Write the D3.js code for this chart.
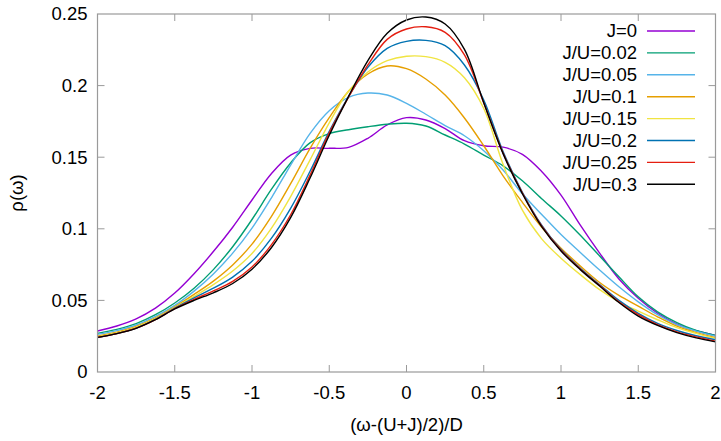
<!DOCTYPE html>
<html><head><meta charset="utf-8">
<script src="https://cdn.jsdelivr.net/npm/d3@7"></script>
<style>body{margin:0;background:#fff}svg{display:block}text{font-family:"Liberation Sans",Arial,sans-serif;fill:#000}</style>
</head><body>
<script>
const xs = [-2, -1.875, -1.75, -1.625, -1.5, -1.375, -1.25, -1.125, -1, -0.875, -0.75, -0.625, -0.5, -0.375, -0.25, -0.125, 0, 0.125, 0.25, 0.375, 0.5, 0.625, 0.75, 0.875, 1, 1.125, 1.25, 1.375, 1.5, 1.625, 1.75, 1.875, 2];
const J0   = [0.0286,0.0321,0.0371,0.0446,0.0551,0.0686,0.0841,0.1011,0.1201,0.1385,0.1515,0.1562,0.1562,0.1569,0.1632,0.1725,0.1776,0.176,0.170,0.1615,0.158,0.157,0.152,0.140,0.1235,0.1025,0.083,0.065,0.0515,0.041,0.0335,0.0288,0.0255];
const J002 = [0.027,0.0298,0.0338,0.040,0.0482,0.0585,0.0715,0.0875,0.1065,0.1275,0.146,0.160,0.1665,0.1692,0.1713,0.173,0.1737,0.1718,0.1655,0.1592,0.1515,0.144,0.1335,0.121,0.109,0.0955,0.081,0.0665,0.0525,0.042,0.0345,0.029,0.0255];
const J005 = [0.0263,0.0289,0.0328,0.0388,0.0465,0.0565,0.0685,0.083,0.1005,0.1215,0.1445,0.1665,0.1825,0.1918,0.1948,0.1934,0.1876,0.180,0.172,0.165,0.1545,0.141,0.1245,0.110,0.096,0.0835,0.0712,0.0595,0.049,0.040,0.033,0.0285,0.025];
const J01  = [0.025,0.0278,0.0318,0.0378,0.0455,0.0542,0.0635,0.0748,0.0893,0.1085,0.1315,0.156,0.1776,0.196,0.2081,0.2137,0.2118,0.2046,0.1934,0.1774,0.158,0.137,0.1185,0.101,0.0865,0.074,0.0625,0.0535,0.046,0.0385,0.032,0.0275,0.024];
const J015 = [0.0245,0.0273,0.0313,0.0373,0.045,0.0528,0.061,0.0705,0.0828,0.1003,0.1225,0.148,0.174,0.1962,0.2095,0.2174,0.2205,0.2202,0.2163,0.2055,0.184,0.145,0.113,0.093,0.0795,0.068,0.0575,0.049,0.0425,0.0365,0.031,0.027,0.0235];
const J02  = [0.024,0.0268,0.0307,0.0368,0.0446,0.0518,0.0585,0.0663,0.0773,0.0933,0.1143,0.140,0.168,0.1923,0.2128,0.226,0.2309,0.2316,0.2279,0.2144,0.19,0.154,0.1255,0.1025,0.0855,0.0725,0.061,0.050,0.041,0.034,0.029,0.0253,0.0225];
const J025 = [0.0242,0.0268,0.0306,0.0366,0.0443,0.0507,0.0566,0.0633,0.0733,0.0888,0.1098,0.1373,0.167,0.192,0.2144,0.2323,0.2395,0.2411,0.2372,0.2214,0.188,0.153,0.125,0.102,0.085,0.072,0.0605,0.049,0.040,0.033,0.028,0.0245,0.0215];
const J03  = [0.0242,0.0268,0.0305,0.0365,0.0440,0.0500,0.0553,0.0618,0.0718,0.0868,0.1078,0.1353,0.1653,0.1925,0.2174,0.2365,0.2458,0.2479,0.243,0.2253,0.188,0.1525,0.1245,0.1015,0.0845,0.0715,0.060,0.0485,0.039,0.0325,0.0275,0.0238,0.021];
const seriesNames = ["J=0","J/U=0.02","J/U=0.05","J/U=0.1","J/U=0.15","J/U=0.2","J/U=0.25","J/U=0.3"];
const seriesValues = [J0, J002, J005, J01, J015, J02, J025, J03];
const colors = ["#9400d3","#009e73","#56b4e9","#e69f00","#f0e442","#0072b2","#e51e10","#000000"];
const xTicks = [-2,-1.5,-1,-0.5,0,0.5,1,1.5,2];
const xTickLabels = ["-2","-1.5","-1","-0.5","0","0.5","1","1.5","2"];
const yTicks = [0,0.05,0.1,0.15,0.2,0.25];
const yTickLabels = ["0","0.05","0.1","0.15","0.2","0.25"];

const W = 721, H = 441;
const L = 97.5, R = 715.5, T = 14, B = 372;
const svg = d3.select("body").append("svg").attr("width", W).attr("height", H);
const x = d3.scaleLinear().domain([-2, 2]).range([L, R]);
const y = d3.scaleLinear().domain([0, 0.25]).range([B, T]);
const fs = "18.5px";
const gridCol = "#9a9a9a";

// curves
const line = d3.line().x((d, i) => x(xs[i])).y(d => y(d)).curve(d3.curveCatmullRom.alpha(0.5));
seriesValues.forEach((vals, k) => {
  svg.append("path").attr("d", line(vals)).attr("fill", "none")
    .attr("stroke", colors[k]).attr("stroke-width", 1.4);
});

// border
svg.append("rect").attr("x", L).attr("y", T).attr("width", R - L).attr("height", B - T)
  .attr("fill", "none").attr("stroke", gridCol).attr("stroke-width", 1.2);

// ticks (inward, mirrored)
const tl = 7;
xTicks.forEach((t, i) => {
  const px = x(t);
  if (i > 0 && i < xTicks.length - 1) {
    svg.append("line").attr("x1", px).attr("x2", px).attr("y1", B).attr("y2", B - tl).attr("stroke", gridCol);
    svg.append("line").attr("x1", px).attr("x2", px).attr("y1", T).attr("y2", T + tl).attr("stroke", gridCol);
  }
  svg.append("text").attr("x", px).attr("y", 399).attr("text-anchor", "middle")
    .style("font-size", fs).text(xTickLabels[i]);
});
yTicks.forEach((t, i) => {
  const py = y(t);
  if (i > 0 && i < yTicks.length - 1) {
    svg.append("line").attr("x1", L).attr("x2", L + tl).attr("y1", py).attr("y2", py).attr("stroke", gridCol);
    svg.append("line").attr("x1", R).attr("x2", R - tl).attr("y1", py).attr("y2", py).attr("stroke", gridCol);
  }
  svg.append("text").attr("x", 87.5).attr("y", py).attr("dy", "0.35em").attr("text-anchor", "end")
    .style("font-size", fs).text(yTickLabels[i]);
});

// axis titles
svg.append("text").attr("x", 406.5).attr("y", 431).attr("text-anchor", "middle")
  .style("font-size", fs).text("(ω-(U+J)/2)/D");
svg.append("text").attr("transform", "translate(23,193) rotate(-90)").attr("text-anchor", "middle")
  .style("font-size", fs).text("ρ(ω)");

// legend
seriesNames.forEach((name, k) => {
  const ly = 31 + k * 21.9;
  svg.append("text").attr("x", 637).attr("y", ly).attr("dy", "0.35em").attr("text-anchor", "end")
    .style("font-size", fs).text(name);
  svg.append("line").attr("x1", 647).attr("x2", 695).attr("y1", ly).attr("y2", ly)
    .attr("stroke", colors[k]).attr("stroke-width", 1.4);
});
</script>
</body></html>
